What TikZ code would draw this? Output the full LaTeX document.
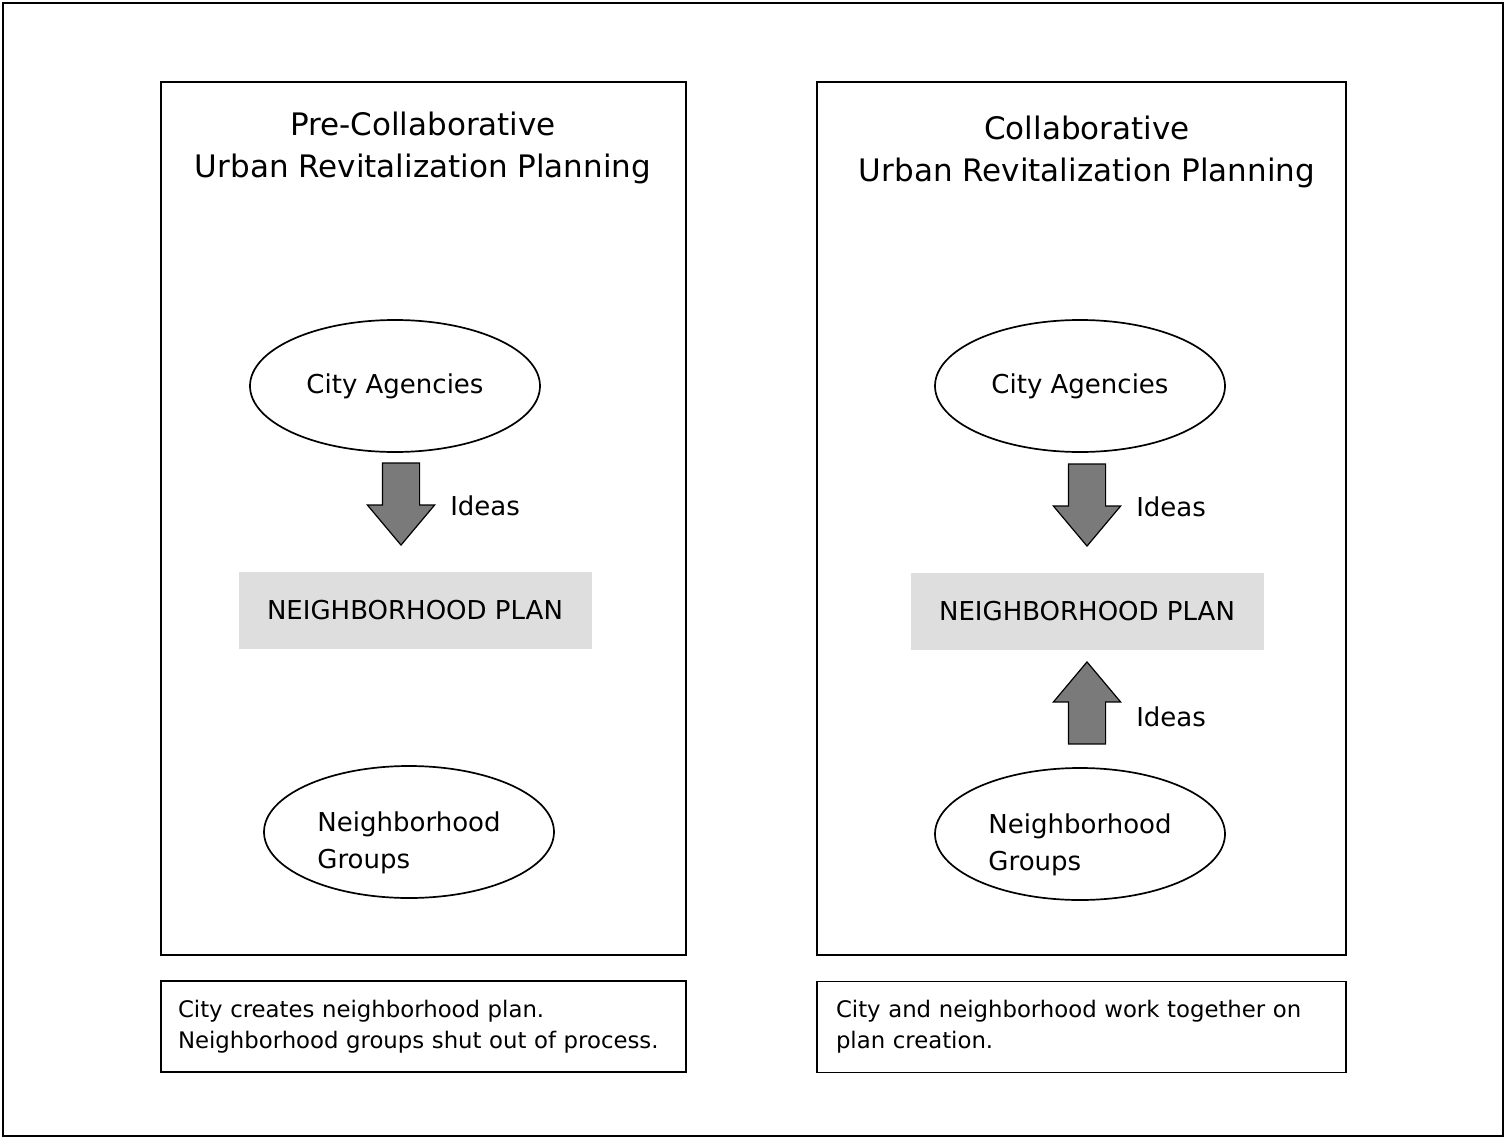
\documentclass[tikz,border=0pt]{standalone}
\usepackage{fontspec}
\setmainfont{DejaVu Sans}
\usetikzlibrary{shapes.geometric,shapes.arrows,positioning}

\begin{document}
\begin{tikzpicture}[x=1pt,y=-1pt,semithick,
	panel/.style={draw,line width=1.7pt},
	heading/.style={align=center,font=\fontsize{31}{42}\selectfont},
	group/.style={ellipse,draw,line width=1.7pt,minimum width=290pt,minimum height=132pt,align=left,font=\fontsize{26}{37}\selectfont},
	plan/.style={fill=black!13,minimum width=353pt,minimum height=77pt,font=\fontsize{26}{31}\selectfont},
	idea/.style={single arrow,draw,line width=1.2pt,fill=black!52,inner xsep=0pt,inner ysep=18pt,minimum height=82pt,single arrow head extend=15pt,single arrow tip angle=80},
	ideatext/.style={anchor=west,inner sep=0pt,font=\fontsize{26}{31}\selectfont},
	caption/.style={draw,line width=1.7pt,minimum width=525pt,minimum height=91pt,inner xsep=17pt,text width=491pt,align=left,font=\fontsize{22.8}{31}\selectfont}]
	
	\useasboundingbox (0,0) rectangle (1506,1139);
	\draw[line width=1.8pt] (3,3) rectangle (1503,1136);
	
	% left: before collaboration
	\draw[panel] (161,82) rectangle (686,955);
	\node[heading] (title1) at (423,148) {Pre-Collaborative\\Urban Revitalization Planning};
	\node[group] (city1) at (395,386) {City Agencies};
	\node[idea,rotate=-90] (down1) at (401,493) {};
	\node[ideatext] (ideas1) at (450,506) {Ideas};
	\node[plan] (plan1) at (415,610) {NEIGHBORHOOD PLAN};
	\node[group,label={[align=left,font=\fontsize{26}{37}\selectfont,yshift=-11pt]center:Neighborhood\\Groups}] (hood1) at (409,832) {};
	\node[caption] (note1) at (423.5,1026.5) {City creates neighborhood plan.\\Neighborhood groups shut out of process.};
	
	% right: collaboration
	\draw[panel] (817,82) rectangle (1346,955);
	\node[heading] (title2) at (1087,152) {Collaborative\\Urban Revitalization Planning};
	\node[group] (city2) at (1080,386) {City Agencies};
	\node[idea,rotate=-90] (down2) at (1087,494) {};
	\node[ideatext] (ideas2) at (1136,507) {Ideas};
	\node[plan] (plan2) at (1087,611) {NEIGHBORHOOD PLAN};
	\node[idea,rotate=90] (up2) at (1087,714) {};
	\node[ideatext] (ideas3) at (1136,717) {Ideas};
	\node[group,label={[align=left,font=\fontsize{26}{37}\selectfont,yshift=-11pt]center:Neighborhood\\Groups}] (hood2) at (1080,834) {};
	\node[caption,minimum width=529pt] (note2) at (1081.5,1027) {City and neighborhood work together on\\plan creation.};
	
\end{tikzpicture}
\end{document}
